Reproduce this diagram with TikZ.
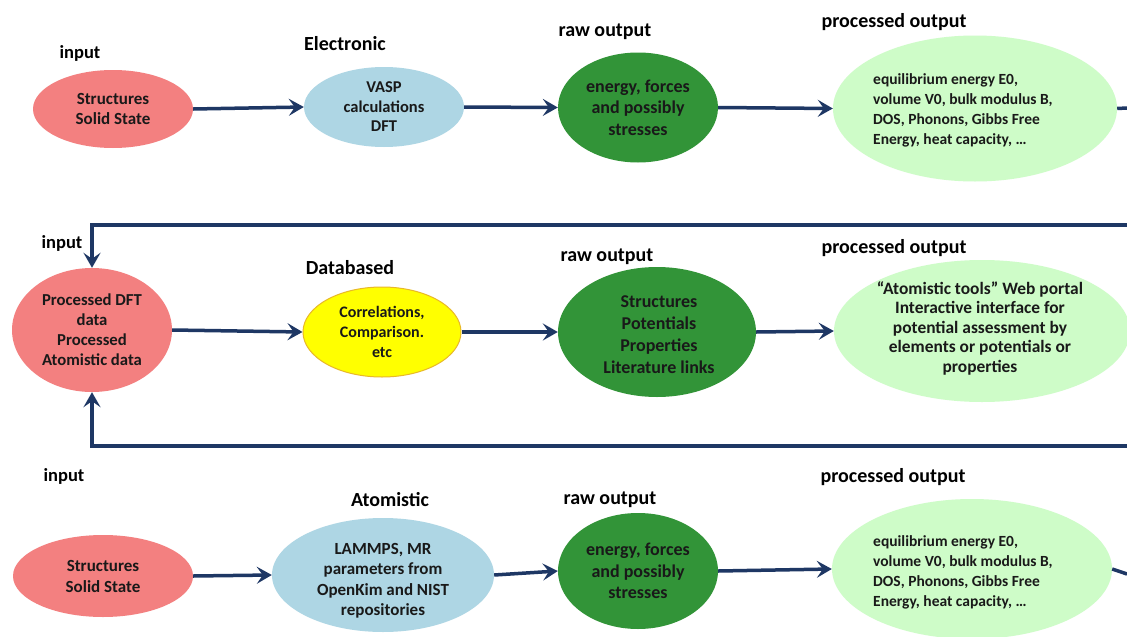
\documentclass[tikz,border=0pt]{standalone}
\usepackage{fontspec}
\setmainfont{Carlito}
\usetikzlibrary{shapes.geometric,arrows.meta}
\definecolor{redf}{RGB}{243,128,128}
\definecolor{bluef}{RGB}{174,214,228}
\definecolor{dgreen}{RGB}{50,148,56}
\definecolor{lgreen}{RGB}{206,252,200}
\definecolor{yellowf}{RGB}{255,255,0}
\definecolor{yborder}{RGB}{232,184,40}
\definecolor{navy}{RGB}{30,55,100}
\definecolor{ink}{RGB}{25,25,25}
\newcommand{\fs}[2]{\fontsize{#1}{#2}\selectfont}
\begin{document}
\begin{tikzpicture}[x=1pt,y=-1pt,
  blob/.style={ellipse, inner sep=0pt, draw=none},
  txt/.style={font=\bfseries, align=center, text=ink, inner sep=0pt},
  txtl/.style={font=\bfseries, align=left, text=ink, inner sep=0pt, anchor=west},
  head/.style={font=\bfseries\fs{20}{24}, text=black, inner sep=0pt},
  arr/.style={draw=navy, line width=3.5pt, -{Stealth[length=15pt,width=17pt,inset=6pt]}},
  stub/.style={draw=navy, line width=3.5pt}]
\useasboundingbox[fill=white] (0,0) rectangle (1127,637);

% ---------- row 1 ----------
\node[head, font=\bfseries\fs{18.5}{22}] (h1a) at (80,53) {input};
\node[head] (h1b) at (345,44) {Electronic};
\node[head] (h1c) at (605,32) {raw output};
\node[head] (h1d) at (894,22) {processed output};

\node[blob, fill=redf, minimum width=160pt, minimum height=78pt] (a1) at (113,109) {};
\node[txt, font=\bfseries\fs{17}{20}] (t1a) at (a1.center) {Structures\\Solid State};
\node[blob, fill=bluef, minimum width=160pt, minimum height=80pt] (b1) at (384,107) {};
\node[txt, font=\bfseries\fs{16.5}{19.5}] (t1b) at (b1.center) {VASP\\calculations\\DFT};
\node[blob, fill=dgreen, minimum width=160pt, minimum height=110pt] (c1) at (638,107.5) {};
\node[txt, font=\bfseries\fs{18}{21.5}] (t1c) at (c1.center) {energy, forces\\and possibly\\stresses};
\node[blob, fill=lgreen, minimum width=284pt, minimum height=146pt] (d1) at (975,108.5) {};
\node[txtl, font=\bfseries\fs{15.5}{20}] (t1d) at (873,110) {equilibrium energy E0,\\volume V0, bulk modulus B,\\DOS, Phonons, Gibbs Free\\Energy, heat capacity, \dots};
\coordinate (e1) at (1127,108);

\draw[arr] (a1.east) -- (b1.west);
\draw[arr] (b1.east) -- (c1.west);
\draw[arr] (c1.east) -- (d1.west);
\draw[stub] (d1.east) -- (e1);

% ---------- row 2 ----------
\node[head, font=\bfseries\fs{18.5}{22}] (h2a) at (62,243) {input};
\node[head] (h2b) at (350,268) {Databased};
\node[head] (h2c) at (607,257) {raw output};
\node[head] (h2d) at (894,248) {processed output};

\node[blob, fill=redf, minimum width=160pt, minimum height=124pt] (a2) at (92,330) {};
\node[txt, font=\bfseries\fs{16.7}{20}] (t2a) at (a2.center) {Processed DFT\\data\\Processed\\Atomistic data};
\node[blob, fill=yellowf, draw=yborder, line width=1pt, minimum width=158pt, minimum height=90pt] (b2) at (382,332) {};
\node[txt, font=\bfseries\fs{16}{20}] (t2b) at (b2.center) {Correlations,\\Comparison.\\etc};
\node[blob, fill=dgreen, minimum width=198pt, minimum height=130pt] (c2) at (657,332) {};
\node[txt, font=\bfseries\fs{18}{22}] (t2c) at (659,335) {Structures\\Potentials\\Properties\\Literature links};
\node[blob, fill=lgreen, minimum width=296pt, minimum height=142pt] (d2) at (982,331) {};
\node[txt, font=\bfseries\fs{17.4}{19.5}] (t2d) at (980,328) {“Atomistic tools” Web portal\\Interactive interface for\\potential assessment by\\elements or potentials or\\properties};

\coordinate (tr) at (1127,225);
\coordinate (tl) at (92,225);
\coordinate (br) at (1127,446);
\coordinate (bl) at (92,446);

\draw[arr] (a2.east) -- (b2.west);
\draw[arr] (b2.east) -- (c2.west);
\draw[arr] (c2.east) -- (d2.west);
\draw[arr] (tr) -- (tl) -- (a2.north);
\draw[arr] (br) -- (bl) -- (a2.south);

% ---------- row 3 ----------
\node[head, font=\bfseries\fs{18.5}{22}] (h3a) at (64,476) {input};
\node[head] (h3b) at (390,500) {Atomistic};
\node[head] (h3c) at (610,500) {raw output};
\node[head] (h3d) at (893,477) {processed output};

\node[blob, fill=redf, minimum width=180pt, minimum height=82pt] (a3) at (103,576) {};
\node[txt, font=\bfseries\fs{17}{21}] (t3a) at (a3.center) {Structures\\Solid State};
\node[blob, fill=bluef, minimum width=222pt, minimum height=114pt] (b3) at (383,575) {};
\node[txt, font=\bfseries\fs{17}{20.5}] (t3b) at (383,581) {LAMMPS, MR\\parameters from\\OpenKim and NIST\\repositories};
\node[blob, fill=dgreen, minimum width=160pt, minimum height=116pt] (c3) at (638,571) {};
\node[txt, font=\bfseries\fs{18}{21.5}] (t3c) at (c3.center) {energy, forces\\and possibly\\stresses};
\node[blob, fill=lgreen, minimum width=280pt, minimum height=140pt] (d3) at (972,569) {};
\node[txtl, font=\bfseries\fs{15.5}{20}] (t3d) at (873,572) {equilibrium energy E0,\\volume V0, bulk modulus B,\\DOS, Phonons, Gibbs Free\\Energy, heat capacity, \dots};
\coordinate (e3) at (1127,574);

\draw[arr] (a3.east) -- (b3.west);
\draw[arr] (b3.east) -- (c3.west);
\draw[arr] (c3.east) -- (d3.west);
\draw[stub] (d3.east) -- (e3);
\end{tikzpicture}
\end{document}
